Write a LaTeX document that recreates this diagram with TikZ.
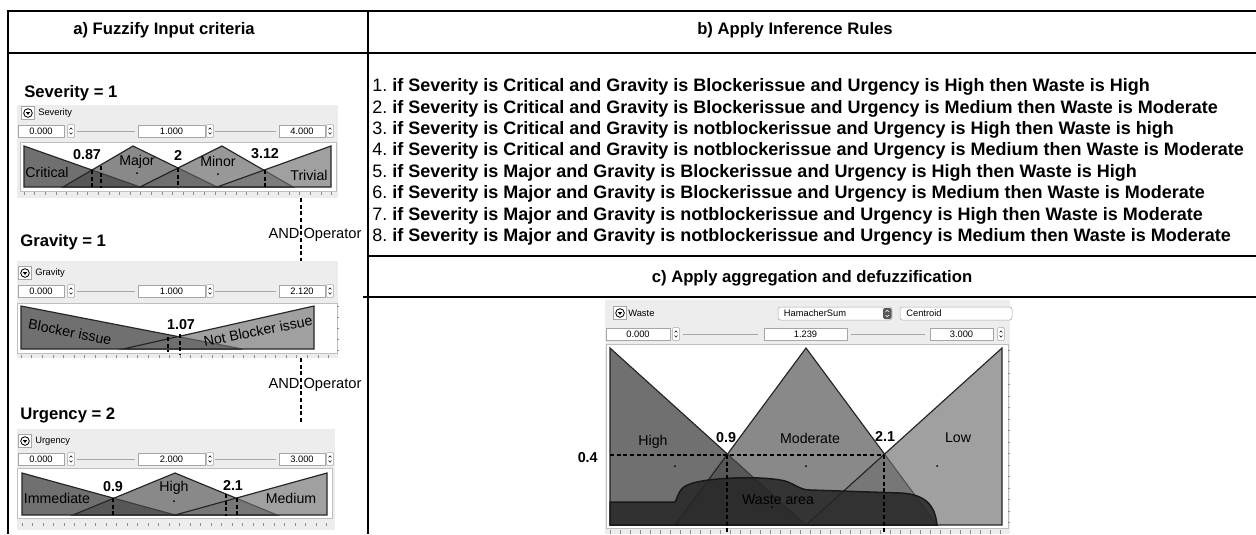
\documentclass[tikz,border=0pt]{standalone}
\usepackage{fontspec}
\setmainfont{Liberation Sans}

\tikzset{
  ttl/.style={font=\fontsize{10}{12}\selectfont\bfseries},
  rulet/.style={font=\fontsize{10.8}{13}\selectfont, anchor=west, inner sep=0pt},
  varname/.style={font=\fontsize{10}{12}\selectfont\bfseries, anchor=west, inner sep=0pt},
  tiny/.style={font=\fontsize{5.6}{6.5}\selectfont, inner sep=0pt},
  term/.style={font=\fontsize{8.5}{10}\selectfont, inner sep=0pt},
  cutval/.style={font=\fontsize{8.6}{10}\selectfont\bfseries, inner sep=0pt},
  andop/.style={font=\fontsize{8.8}{10}\selectfont, inner sep=0pt},
  mf/.style={draw=black!85, line width=0.7pt, fill=black!#1, fill opacity=0.65},
  cutline/.style={line width=0.7pt, dash pattern=on 2.4pt off 1.6pt},
  panel/.style={fill=black!7},
  plotbg/.style={fill=white, draw=black!25, line width=0.4pt},
  field/.style={fill=white, draw=black!35, line width=0.3pt},
  tick/.style={draw=black!45, line width=0.3pt},
  grid/.style={line width=0.9pt},
}

\newcommand\mficon[2]{%
  \draw[field] ({#1-6.5},{#2-6.5}) rectangle ({#1+6.5},{#2+6.5});
  \draw[line width=0.5pt] (#1,#2) circle (4.3);
  \fill ({#1-2.2},{#2-1}) -- ({#1+2.2},{#2-1}) -- (#1,{#2+1.9}) -- cycle;}
\newcommand\spinner[2]{%
  \draw[field, rounded corners=0.8pt] ({#1-3.5},{#2-6.5}) rectangle ({#1+3.5},{#2+6.5});
  \draw[line width=0.3pt] ({#1-1.4},{#2-1.5}) -- (#1,{#2-3.2}) -- ({#1+1.4},{#2-1.5})
    ({#1-1.4},{#2+1.5}) -- (#1,{#2+3.2}) -- ({#1+1.4},{#2+1.5});}
\newcommand\valbox[5]{%
  \draw[field] (#2,{#4-6}) rectangle (#3,{#4+6});
  \node[tiny] (#1) at ({(#2+#3)/2},#4) {#5};}
\newcommand\slider[3]{\draw[draw=black!35, line width=0.3pt] (#1,#3) -- (#2,#3);}
\newcommand\fieldrow[5]{%
  \valbox{#1lo}{18}{64}{#2}{#3}
  \spinner{71}{#2}
  \slider{77}{135}{#2}
  \valbox{#1mid}{138}{205}{#2}{#4}
  \spinner{210}{#2}
  \slider{215}{276}{#2}
  \valbox{#1hi}{279}{325}{#2}{#5}
  \spinner{330}{#2}}

\begin{document}
\begin{tikzpicture}[x=0.6pt, y=-0.6pt]
  \useasboundingbox (0,0) rectangle (1256,534);

  % table
  \draw[grid] (8,534) -- (8,11) -- (1256,11);
  \draw[grid] (8,53) -- (1256,53);
  \draw[grid] (368,11) -- (368,534);
  \draw[grid] (368,256) -- (1256,256);
  \draw[grid] (363,297) -- (1256,297);
  \node[ttl] (ta) at (164,30) {a) Fuzzify Input criteria};
  \node[ttl] (tb) at (795,30) {b) Apply Inference Rules};
  \node[ttl] (tc) at (812,278) {c) Apply aggregation and defuzzification};

  % rules
  \foreach \sv/\gv/\uv/\wv [count=\i] in {Critical/Blockerissue/High/High,
      Critical/Blockerissue/Medium/Moderate, Critical/notblockerissue/High/high,
      Critical/notblockerissue/Medium/Moderate, Major/Blockerissue/High/High,
      Major/Blockerissue/Medium/Moderate, Major/notblockerissue/High/Moderate,
      Major/notblockerissue/Medium/Moderate}
    \node[rulet] (r\i) at (372,{87+(\i-1)*21.43})
      {\i.\ \textbf{if Severity is \sv\ and Gravity is \gv\ and Urgency is \uv\ then Waste is \wv}};

  % severity
  \node[varname] (sev) at (24,93) {Severity = 1};
  \fill[panel] (17,105) rectangle (338,198);
  \mficon{28}{113}
  \node[tiny, anchor=west] (sevname) at (38,113) {Severity};
  \fieldrow{sev}{131}{0.000}{1.000}{4.000}
  \draw[plotbg] (20,142) rectangle (336,191);
  \draw[mf=86] (24,146) -- (140,187) -- (24,187) -- cycle;
  \draw[mf=71] (63,187) -- (133,146) -- (217,187) -- cycle;
  \draw[mf=62] (140,187) -- (222,146) -- (293,187) -- cycle;
  \draw[mf=57] (217,187) -- (331,146) -- (331,187) -- cycle;
  \draw[cutline] (92,170) -- (92,188) (101,166) -- (101,188) (178,168) -- (178,188) (265,170) -- (265,188);
  \foreach \t in {24,34.6,...,334} \draw[tick] (\t,192) -- (\t,195);
  \node[term] (crit) at (47,172) {Critical};
  \node[term] (major) at (137,162) {Major};
  \node[term] (minor) at (218,161) {Minor};
  \node[term] (triv) at (309,175) {Trivial};
  \fill (137,173) circle (1) (218,174) circle (1);
  \node[cutval] (s087) at (87,155) {0.87};
  \node[cutval] (s2) at (178,155) {2};
  \node[cutval] (s312) at (265,154) {3.12};

  % gravity
  \node[varname] (grav) at (20,242) {Gravity = 1};
  \fill[panel] (17,261) rectangle (338,358);
  \mficon{25}{273}
  \node[tiny, anchor=west] (gravname) at (35,273) {Gravity};
  \fieldrow{grav}{291}{0.000}{1.000}{2.120}
  \draw[plotbg] (17,303) rectangle (337,353);
  \draw[mf=86] (21,306) -- (242,349) -- (21,349) -- cycle;
  \draw[mf=57] (123,349) -- (314,306) -- (314,349) -- cycle;
  \draw[cutline] (168,337) -- (168,352) (180,334) -- (180,355);
  \foreach \t in {21,31.6,...,337} \draw[tick] (\t,355) -- (\t,358);
  \foreach \t in {306,317,...,350} \draw[tick] (337,\t) -- (339,\t);
  \node[term, rotate=-11] (blk) at (70,332) {Blocker issue};
  \node[term, rotate=11] (nblk) at (258,331) {Not Blocker issue};
  \node[cutval] (g107) at (181,325) {1.07};

  % urgency
  \node[varname] (urg) at (20,415) {Urgency = 2};
  \fill[panel] (17,429) rectangle (335,530);
  \mficon{25}{441}
  \node[tiny, anchor=west] (urgname) at (35,441) {Urgency};
  \fieldrow{urg}{459}{0.000}{2.000}{3.000}
  \draw[plotbg] (17,468) rectangle (332,518);
  \draw[mf=86] (22,473) -- (175,515) -- (22,515) -- cycle;
  \draw[mf=71] (73,515) -- (175,473) -- (277,515) -- cycle;
  \draw[mf=57] (175,515) -- (327,473) -- (327,515) -- cycle;
  \draw[cutline] (113,498) -- (113,516) (226,494) -- (226,516) (237,498) -- (237,518);
  \foreach \t in {22,32.5,...,332} \draw[tick] (\t,523) -- (\t,526);
  \node[term] (imm) at (57,498) {Immediate};
  \node[term] (uhigh) at (174,488) {High};
  \node[term] (umed) at (291,498) {Medium};
  \fill (174,501) circle (1);
  \node[cutval] (u09) at (113,487) {0.9};
  \node[cutval] (u21) at (233,485) {2.1};

  % AND operators
  \coordinate (and1s) at (301,198);
  \coordinate (and1e) at (301,261);
  \coordinate (and2s) at (301,358);
  \coordinate (and2e) at (301,424);
  \draw[cutline] (and1s) -- (and1e);
  \draw[cutline] (and2s) -- (and2e);
  \node[andop] (and1) at (315,235) {AND Operator};
  \node[andop] (and2) at (315,385) {AND Operator};

  % waste
  \fill[panel] (605,300) rectangle (1010,534);
  \mficon{620}{313}
  \node[tiny, anchor=west] (wname) at (628,313) {Waste};
  \draw[field, rounded corners=1.5pt] (778,307) rectangle (892,320);
  \node[tiny] (aggr) at (815,313) {HamacherSum};
  \fill[black!65, rounded corners=1pt] (883,308) rectangle (891.5,319);
  \draw[white, line width=0.3pt] (885.5,312) -- (887.2,310.3) -- (889,312) (885.5,315) -- (887.2,316.7) -- (889,315);
  \draw[field, rounded corners=1.5pt] (900,307) rectangle (1012,320);
  \node[tiny, anchor=west] (defz) at (906,313) {Centroid};
  \valbox{wlo}{606}{670}{334}{0.000}
  \spinner{676}{334}
  \slider{683}{758}{334}
  \valbox{wmid}{764}{847}{334}{1.239}
  \slider{851}{925}{334}
  \valbox{whi}{930}{993}{334}{3.000}
  \spinner{1001}{334}
  \draw[plotbg] (606,344) rectangle (1008,528);
  \draw[mf=86] (610,348) -- (806,525) -- (610,525) -- cycle;
  \draw[mf=71] (675,525) -- (806,348) -- (937,525) -- cycle;
  \draw[mf=57] (806,525) -- (1002,348) -- (1002,525) -- cycle;
  \draw[draw=black!90, line width=0.9pt, fill=black!85, fill opacity=0.85]
    (610,525) -- (610,502) -- (674,502) .. controls (678,502) and (676,488) .. (690,484)
    .. controls (705,478) and (760,475) .. (785,481) .. controls (795,484) and (800,490) .. (810,490)
    -- (900,493) .. controls (925,494) and (935,505) .. (937,525) -- cycle;
  \foreach \t in {610,620,...,1008} \draw[tick] (\t,530) -- (\t,534);
  \foreach \t in {350,361.5,...,526} \draw[tick] (1008,\t) -- (1010,\t);
  \draw[cutline] (610,455) -- (884,455) (727,455) -- (727,534) (884,455) -- (884,534);
  \node[cutval, anchor=east] (w04) at (598,458) {0.4};
  \node[term] (whigh) at (653,442) {High};
  \node[term] (wmod) at (810,438) {Moderate};
  \node[term] (wlow) at (958,438) {Low};
  \node[term] (warea) at (778,500) {Waste area};
  \node[cutval] (w09) at (726,438) {0.9};
  \node[cutval] (w21) at (885,436) {2.1};
  \fill (675,466) circle (1) (806,466) circle (1) (937,466) circle (1) (772,507) circle (1);
\end{tikzpicture}
\end{document}
